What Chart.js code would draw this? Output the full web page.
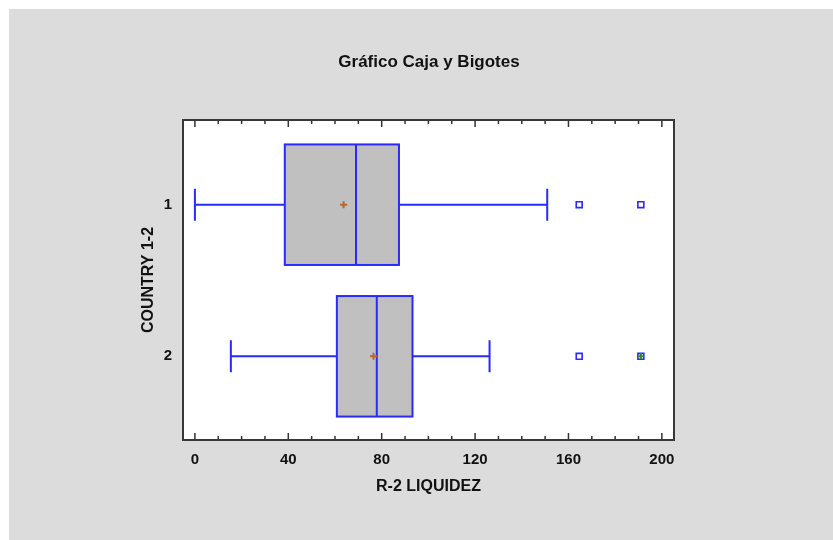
<!DOCTYPE html>
<html>
<head>
<meta charset="utf-8">
<script src="https://cdn.jsdelivr.net/npm/chart.js@4.4.1/dist/chart.umd.min.js"></script>
<style>
  body { margin: 0; background: #fff; }
</style>
</head>
<body>
<canvas id="boxchart" width="833" height="540"></canvas>
<script>
// box plot stats per country group
const categories = ['1', '2']
const lowWhisker = [0, 15.4]
const q1 = [38.5, 60.8]
const medians = [69.0, 77.9]
const q3 = [87.4, 93.2]
const highWhisker = [150.9, 126.2]
const means = [63.7, 76.5]
const outsidePoints = [[164.6, 191.0], [164.6, 191.0]]
const farOutsidePoints = [[], [191.0]]
const xTicks = [0, 40, 80, 120, 160, 200]

const FONT = "'Liberation Sans', Arial, sans-serif"
const BOX_HALF = 0.3975
const CAP_HALF = 0.1055
const BLUE = '#2a2aff'

function toPoints(lists){
    let pts = []
    lists.forEach(function(list, i){
        list.forEach(function(v){
            pts.push({x: v, y: i + 1})
        })
    })
    return pts
}

const boxPlot = {
    id: 'boxPlot',
    beforeDraw(chart){
        const ctx = chart.ctx
        ctx.save()
        ctx.fillStyle = '#fff'
        ctx.fillRect(0, 0, chart.width, chart.height)
        ctx.fillStyle = '#dcdcdc'
        ctx.fillRect(9, 9, chart.width - 9, chart.height - 9)
        ctx.restore()
    },
    beforeDatasetsDraw(chart){
        const ctx = chart.ctx
        const a = chart.chartArea
        const x = chart.scales.x
        const y = chart.scales.y
        ctx.save()
        ctx.fillStyle = '#fff'
        ctx.fillRect(a.left, a.top, a.right - a.left, a.bottom - a.top)
        categories.forEach(function(c, i){
            const yc = y.getPixelForValue(i + 1)
            const yTop = y.getPixelForValue(i + 1 - BOX_HALF)
            const yBot = y.getPixelForValue(i + 1 + BOX_HALF)
            const capTop = y.getPixelForValue(i + 1 - CAP_HALF)
            const capBot = y.getPixelForValue(i + 1 + CAP_HALF)
            const xLow = x.getPixelForValue(lowWhisker[i])
            const xQ1 = x.getPixelForValue(q1[i])
            const xMed = x.getPixelForValue(medians[i])
            const xQ3 = x.getPixelForValue(q3[i])
            const xHigh = x.getPixelForValue(highWhisker[i])

            ctx.strokeStyle = BLUE
            ctx.lineWidth = 2
            // whiskers with end caps
            ctx.beginPath()
            ctx.moveTo(xLow, yc)
            ctx.lineTo(xQ1, yc)
            ctx.moveTo(xQ3, yc)
            ctx.lineTo(xHigh, yc)
            ctx.moveTo(xLow, capTop)
            ctx.lineTo(xLow, capBot)
            ctx.moveTo(xHigh, capTop)
            ctx.lineTo(xHigh, capBot)
            ctx.stroke()

            // box
            ctx.fillStyle = '#c0c0c0'
            ctx.fillRect(xQ1, yTop, xQ3 - xQ1, yBot - yTop)
            ctx.strokeRect(xQ1, yTop, xQ3 - xQ1, yBot - yTop)

            // median
            ctx.beginPath()
            ctx.moveTo(xMed, yTop)
            ctx.lineTo(xMed, yBot)
            ctx.stroke()
        })
        ctx.restore()
    },
    afterDraw(chart){
        const ctx = chart.ctx
        const a = chart.chartArea
        const x = chart.scales.x
        ctx.save()
        // inward tick marks, top and bottom
        ctx.strokeStyle = '#333'
        ctx.lineWidth = 1.5
        ctx.beginPath()
        for (let v = xTicks[0]; v <= xTicks[xTicks.length - 1]; v += 10){
            const px = x.getPixelForValue(v)
            const len = (v % 40 == 0) ? 7 : 4
            ctx.moveTo(px, a.bottom)
            ctx.lineTo(px, a.bottom - len)
            ctx.moveTo(px, a.top)
            ctx.lineTo(px, a.top + len)
        }
        ctx.stroke()
        // plot frame
        ctx.strokeStyle = '#383838'
        ctx.lineWidth = 2
        ctx.strokeRect(a.left, a.top, a.right - a.left, a.bottom - a.top)
        ctx.restore()
    }
}

const canvas = document.getElementById('boxchart')
new Chart(canvas, {
    type: 'scatter',
    data: {
        datasets: [{
            label: 'far outside',
            data: toPoints(farOutsidePoints),
            pointStyle: 'cross',
            pointRadius: 3,
            borderColor: '#2e8b2e',
            borderWidth: 2
        }, {
            label: 'outside',
            data: toPoints(outsidePoints),
            pointStyle: 'rect',
            pointRadius: 4.2,
            backgroundColor: '#fff',
            borderColor: BLUE,
            borderWidth: 1.6
        }, {
            label: 'mean',
            data: means.map(function(m, i){ return {x: m, y: i + 1} }),
            pointStyle: 'cross',
            pointRadius: 3.5,
            borderColor: '#b8652e',
            borderWidth: 2
        }]
    },
    options: {
        responsive: false,
        animation: false,
        events: [],
        layout: {
            padding: {left: 25, right: 0, top: 0, bottom: 0}
        },
        plugins: {
            legend: {display: false},
            tooltip: {enabled: false},
            title: {
                display: true,
                text: 'Gráfico Caja y Bigotes',
                color: '#111',
                font: {family: FONT, size: 17, weight: 'bold', lineHeight: 1.2},
                padding: {top: 52, bottom: 47.6}
            }
        },
        scales: {
            x: {
                type: 'linear',
                min: -5.1,
                max: 205.2,
                grid: {display: false, drawTicks: false},
                border: {display: false},
                afterBuildTicks: function(scale){
                    scale.ticks = xTicks.map(function(v){ return {value: v} })
                },
                ticks: {
                    padding: 11,
                    color: '#111',
                    font: {family: FONT, size: 15, weight: 'bold', lineHeight: 1.2}
                },
                title: {
                    display: true,
                    text: 'R-2 LIQUIDEZ',
                    color: '#111',
                    font: {family: FONT, size: 16, weight: 'bold', lineHeight: 1.2},
                    padding: {top: 0, bottom: 44}
                },
                afterFit: function(scale){ scale.height = 100 }
            },
            y: {
                type: 'linear',
                reverse: true,
                min: 0.4413,
                max: 2.5521,
                grid: {display: false, drawTicks: false},
                border: {display: false},
                afterBuildTicks: function(scale){
                    scale.ticks = categories.map(function(c, i){ return {value: i + 1} })
                },
                ticks: {
                    padding: 11,
                    color: '#111',
                    font: {family: FONT, size: 15, weight: 'bold', lineHeight: 1.2},
                    callback: function(value){ return categories[Math.round(value) - 1] }
                },
                title: {
                    display: true,
                    text: 'COUNTRY 1-2',
                    color: '#111',
                    font: {family: FONT, size: 16, weight: 'bold', lineHeight: 1.2},
                    padding: {top: 114, bottom: 0}
                },
                afterFit: function(scale){ scale.width = 158 }
            },
            yRight: {
                type: 'linear',
                position: 'right',
                grid: {display: false, drawTicks: false},
                border: {display: false},
                ticks: {display: false},
                afterFit: function(scale){ scale.width = 159 }
            }
        }
    },
    plugins: [boxPlot]
})
</script>
</body>
</html>
